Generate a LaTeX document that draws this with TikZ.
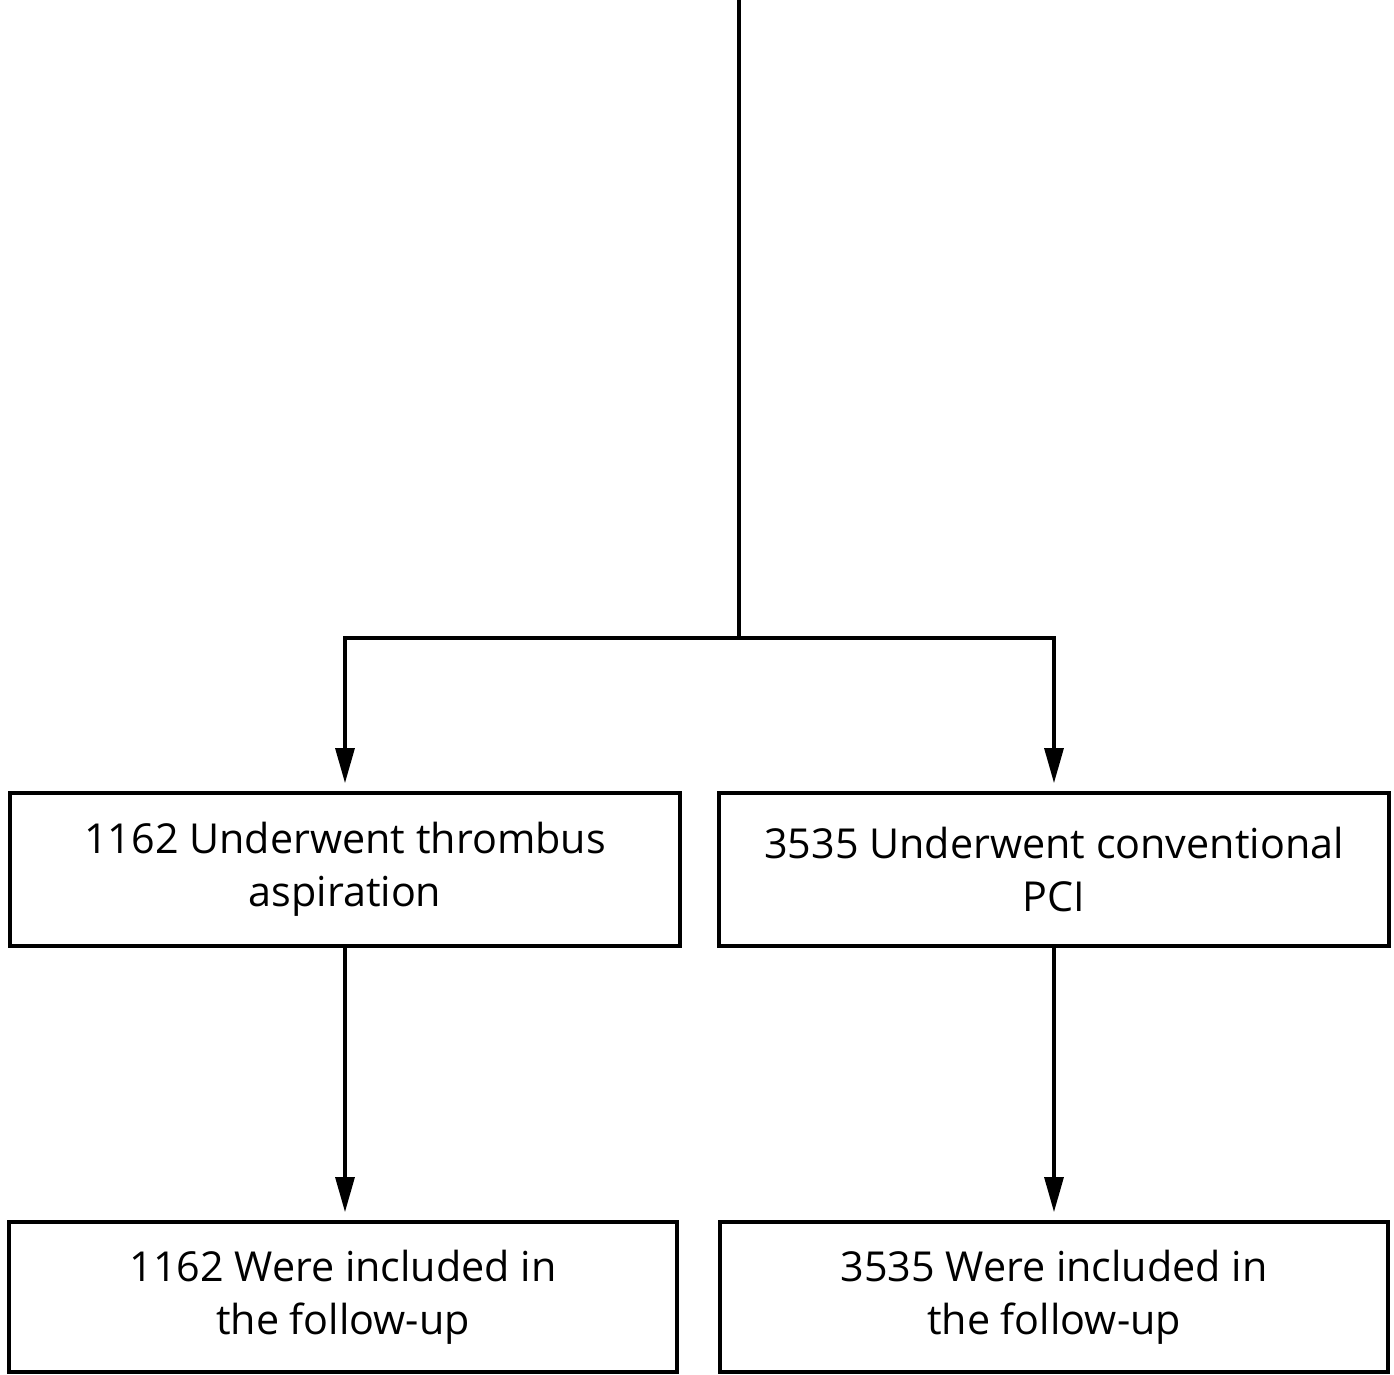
\documentclass[tikz,border=0pt]{standalone}
\usepackage{fontspec}
\setmainfont{Open Sans}
\usetikzlibrary{arrows.meta, positioning}

\begin{document}
\begin{tikzpicture}[x=0.02cm, y=-0.02cm, >={Triangle[length=0.7cm, width=0.38cm]},
        flowbox/.style={draw, line width=2.2pt, minimum width=13.4cm, minimum height=3.06cm, align=center, font=\fontsize{23.5}{30}\selectfont, inner sep=0pt},
        endbox/.style={flowbox, minimum width=13.36cm, minimum height=3.0cm},
        link/.style={line width=1.8pt, shorten >=0.16cm}]
        \useasboundingbox (0,0) rectangle (1394,1375);
        \coordinate (top) at (739,0);
        \coordinate (split) at (739,638);
        \node[flowbox] (ta) at (345,869.5) {1162 Underwent thrombus\\aspiration};
        \node[flowbox] (pci) at (1054,869.5) {3535 Underwent conventional\\PCI};
        \node[endbox] (tafu) at (343,1297) {1162 Were included in\\the follow-up};
        \node[endbox] (pcifu) at (1054,1297) {3535 Were included in\\the follow-up};
        \draw[line width=1.8pt] (top) -- (split);
        \draw[link, ->] (split) -| (ta);
        \draw[link, ->] (split) -| (pci);
        \draw[link, ->] (ta.south) -- (ta.south |- tafu.north);
        \draw[link, ->] (pci.south) -- (pci.south |- pcifu.north);
    \end{tikzpicture}
\end{document}
